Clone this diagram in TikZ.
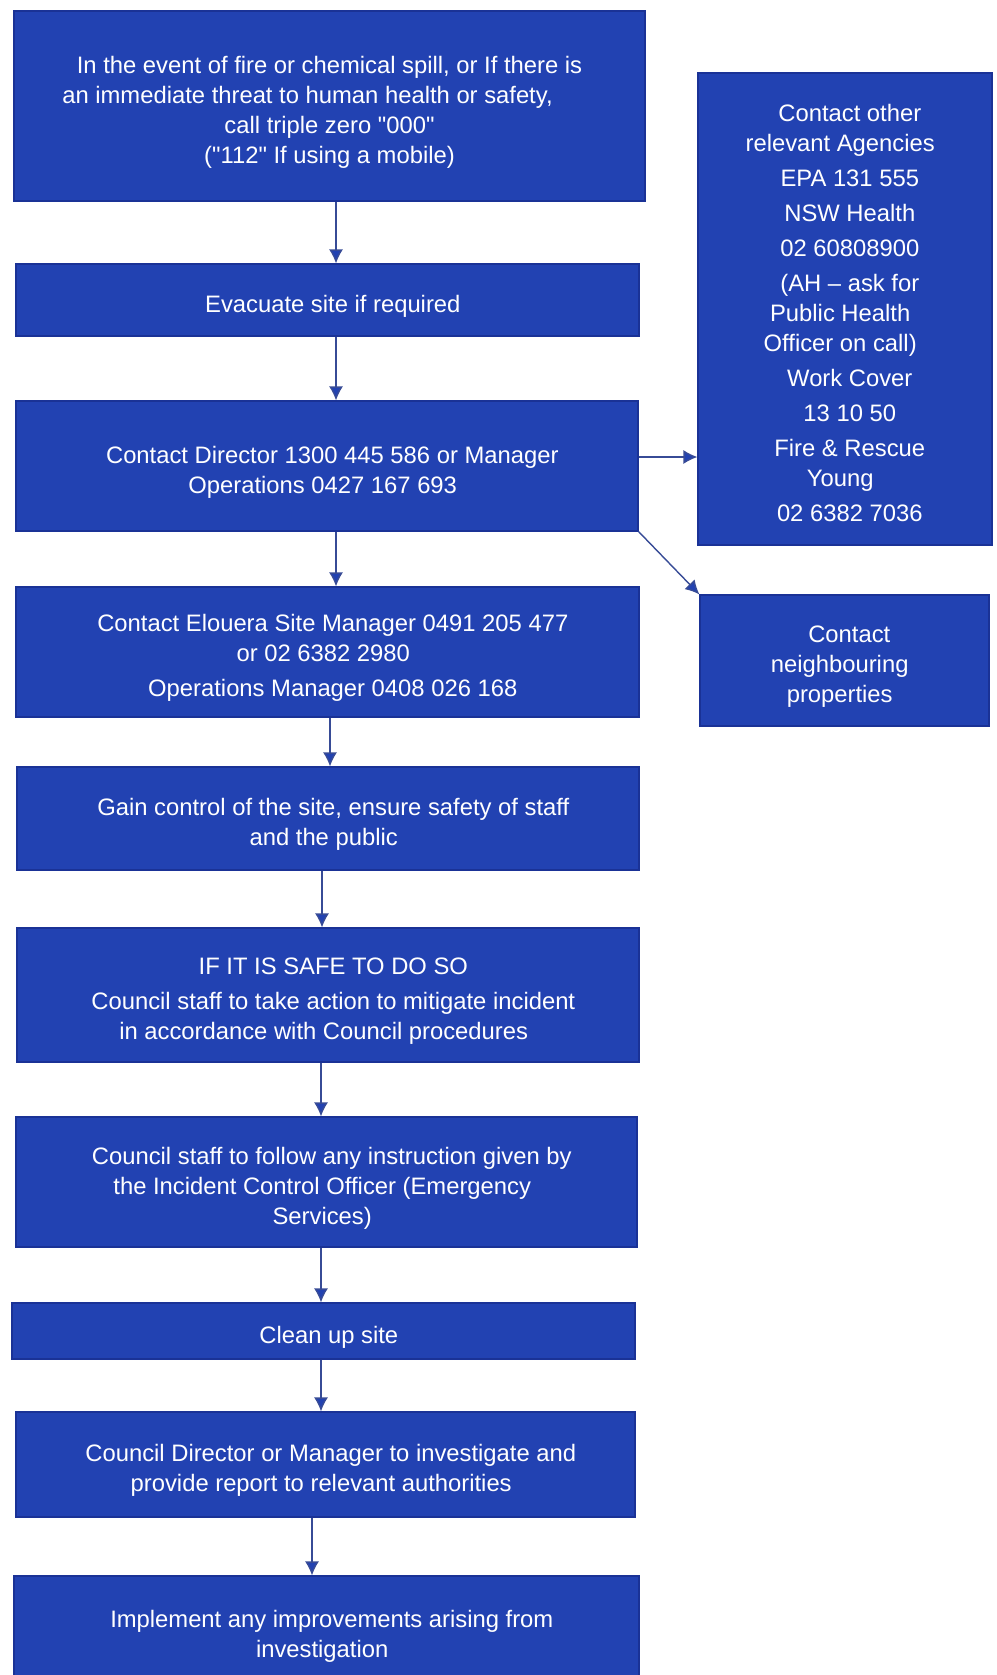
\documentclass[tikz,border=0pt]{standalone}
\usepackage{fontspec}
\setmainfont{Liberation Sans}
\usetikzlibrary{arrows.meta}

\definecolor{boxblue}{RGB}{34,66,178}
\definecolor{edgeblue}{RGB}{26,50,150}
\definecolor{linkblue}{RGB}{55,75,150}

\tikzset{
  stepbox/.style={draw=edgeblue, fill=boxblue, line width=0.6pt, text=white,
    align=center, inner sep=0pt, font=\fontsize{11.9}{15}\selectfont},
  link/.style={draw=linkblue, line width=0.7pt,
    -{Latex[length=7pt,width=7pt,fill=boxblue]}},
}
\newcommand{\upst}{\rule{0pt}{15pt}}
\newcommand{\dnst}{\rule[-3pt]{0pt}{3pt}}
\newcommand{\shr}{\mbox{\hspace{5.3pt}}}
\newcommand{\shl}{\mbox{\hspace{4.3pt}}}
\newcommand{\rsh}{\mbox{\hspace{4.8pt}}}
\newcommand{\qq}{\textquotedbl}

\begin{document}
\begin{tikzpicture}[x=0.5pt,y=-0.5pt]
\useasboundingbox (0,0) rectangle (996,1675);

% main column
\node[stepbox, minimum width=315.5pt, minimum height=95pt] (call) at (329.5,106)
  {\upst In the event of fire or chemical spill, or If there is\\
   an immediate threat to human health or safety,\mbox{\hspace{22pt}}\\
   call triple zero \qq000\qq\\
   (\qq112\qq\ If using a mobile)\dnst};
\node[stepbox, minimum width=311.5pt, minimum height=36pt] (evac) at (327.5,300)
  {\upst\shr Evacuate site if required\dnst};
\node[stepbox, minimum width=311pt, minimum height=65pt] (dir) at (327,466)
  {\upst\shr Contact Director 1300 445 586 or Manager\\
   Operations 0427 167 693\shl\dnst};
\node[stepbox, minimum width=311.5pt, minimum height=65pt] (elou) at (327.5,652)
  {\upst\shr Contact Elouera Site Manager 0491 205 477\\
   or 02 6382 2980\shl\\[2.5pt]
   \shr Operations Manager 0408 026 168\dnst};
\node[stepbox, minimum width=311pt, minimum height=51.5pt] (gain) at (328,818.5)
  {\upst\shr Gain control of the site, ensure safety of staff\\
   and the public\shl\dnst};
\node[stepbox, minimum width=311pt, minimum height=67pt] (safe) at (328,995)
  {\upst\shr IF IT IS SAFE TO DO SO\\[2.5pt]
   \shr Council staff to take action to mitigate incident\\
   in accordance with Council procedures\shl\dnst};
\node[stepbox, minimum width=310.5pt, minimum height=65pt] (follow) at (326.5,1182)
  {\upst\shr Council staff to follow any instruction given by\\
   the Incident Control Officer (Emergency\shl\\
   Services)\shl\dnst};
\node[stepbox, minimum width=311.5pt, minimum height=28pt] (clean) at (323.5,1331)
  {\upst\shr Clean up site\dnst};
\node[stepbox, minimum width=309.5pt, minimum height=52.5pt] (report) at (325.5,1464.5)
  {\upst\shr Council Director or Manager to investigate and\\
   provide report to relevant authorities\shl\dnst};
\node[stepbox, minimum width=312.5pt, minimum height=54pt] (improve) at (326.5,1630)
  {\upst\shr Implement any improvements arising from\\
   investigation\shl\dnst};

% side boxes
\node[stepbox, minimum width=147pt, minimum height=236pt] (agen) at (845,309)
  {\upst\rsh Contact other\\
   relevant Agencies\rsh\\[2.5pt]
   \rsh EPA 131 555\\[2.5pt]
   \rsh NSW Health\\[2.5pt]
   \rsh 02 60808900\\[2.5pt]
   \rsh (AH -- ask for\\
   Public Health\rsh\\
   Officer on call)\rsh\\[2.5pt]
   \rsh Work Cover\\[2.5pt]
   \rsh 13 10 50\\[2.5pt]
   \rsh Fire \& Rescue\\
   Young\rsh\\[2.5pt]
   \rsh 02 6382 7036\dnst};
\node[stepbox, minimum width=144.5pt, minimum height=65.5pt] (neigh) at (844.5,660.5)
  {\upst\rsh Contact\\
   neighbouring\rsh\\
   properties\rsh\dnst};

\draw[link] ([xshift=3.25pt]call.south) -- ([xshift=3.25pt]call.south |- evac.north);
\draw[link] ([xshift=4.25pt]evac.south) -- ([xshift=4.25pt]evac.south |- dir.north);
\draw[link] ([xshift=4.5pt]dir.south) -- ([xshift=4.5pt]dir.south |- elou.north);
\draw[link] ([xshift=1.25pt]elou.south) -- ([xshift=1.25pt]elou.south |- gain.north);
\draw[link] ([xshift=-3pt]gain.south) -- ([xshift=-3pt]gain.south |- safe.north);
\draw[link] ([xshift=-3.5pt]safe.south) -- ([xshift=-3.5pt]safe.south |- follow.north);
\draw[link] ([xshift=-2.75pt]follow.south) -- ([xshift=-2.75pt]follow.south |- clean.north);
\draw[link] ([xshift=-1.25pt]clean.south) -- ([xshift=-1.25pt]clean.south |- report.north);
\draw[link] ([xshift=-6.75pt]report.south) -- ([xshift=-6.75pt]report.south |- improve.north);
\draw[link] ([yshift=4.5pt]dir.east) coordinate (h) -- (h -| agen.west);
\draw[link] (dir.south east) -- (neigh.north west);
\end{tikzpicture}
\end{document}
